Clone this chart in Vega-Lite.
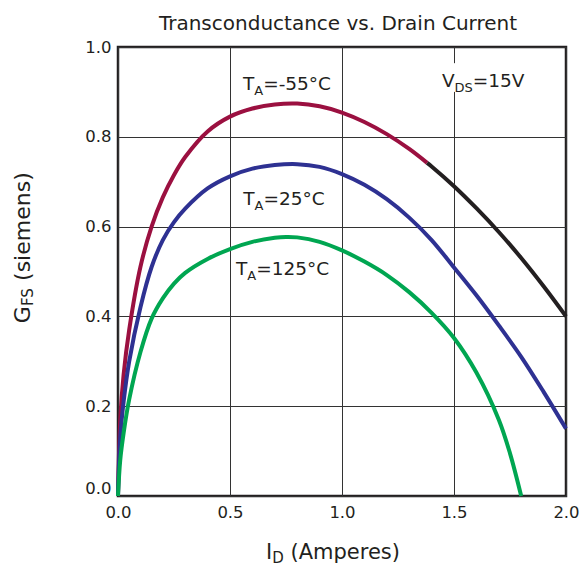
{
  "$schema": "https://vega.github.io/schema/vega-lite/v6.json",
  "width": 448,
  "height": 449,
  "autosize": "none",
  "padding": {"left": 118, "top": 47, "right": 15, "bottom": 74},
  "title": {"text": "Transconductance vs. Drain Current", "font": "DejaVu Sans", "fontSize": 20, "fontWeight": "normal", "color": "#231f20", "anchor": "middle", "baseline": "alphabetic", "offset": 13, "dx": -4, "dy": 24},
  "config": {
    "view": {"stroke": "#231f20", "strokeWidth": 2.5},
    "axis": {"domain": false, "ticks": false, "grid": true, "gridColor": "#333333", "gridWidth": 1, "gridOpacity": 1, "labelFont": "DejaVu Sans", "labelFontSize": 16.5, "labelColor": "#231f20", "labelOverlap": false}
  },
  "datasets": {
    "curves": [
      {"x": 0, "y": 0, "s": "red"}, {"x": 0.01, "y": 0.17, "s": "red"}, {"x": 0.025, "y": 0.27, "s": "red"}, {"x": 0.05, "y": 0.37, "s": "red"}, {"x": 0.1, "y": 0.51, "s": "red"}, {"x": 0.15, "y": 0.60, "s": "red"}, {"x": 0.2, "y": 0.665, "s": "red"}, {"x": 0.25, "y": 0.715, "s": "red"}, {"x": 0.3, "y": 0.755, "s": "red"}, {"x": 0.4, "y": 0.812, "s": "red"}, {"x": 0.5, "y": 0.845, "s": "red"}, {"x": 0.6, "y": 0.863, "s": "red"}, {"x": 0.7, "y": 0.872, "s": "red"}, {"x": 0.8, "y": 0.874, "s": "red"}, {"x": 0.9, "y": 0.868, "s": "red"}, {"x": 1.0, "y": 0.854, "s": "red"}, {"x": 1.1, "y": 0.833, "s": "red"}, {"x": 1.2, "y": 0.806, "s": "red"}, {"x": 1.3, "y": 0.773, "s": "red"}, {"x": 1.38, "y": 0.742, "s": "red"},
      {"x": 1.38, "y": 0.742, "s": "black"}, {"x": 1.4, "y": 0.734, "s": "black"}, {"x": 1.5, "y": 0.690, "s": "black"}, {"x": 1.6, "y": 0.641, "s": "black"}, {"x": 1.7, "y": 0.588, "s": "black"}, {"x": 1.8, "y": 0.530, "s": "black"}, {"x": 1.9, "y": 0.467, "s": "black"}, {"x": 2.0, "y": 0.40, "s": "black"},
      {"x": 0, "y": 0, "s": "blue"}, {"x": 0.01, "y": 0.13, "s": "blue"}, {"x": 0.025, "y": 0.21, "s": "blue"}, {"x": 0.05, "y": 0.30, "s": "blue"}, {"x": 0.1, "y": 0.42, "s": "blue"}, {"x": 0.15, "y": 0.51, "s": "blue"}, {"x": 0.2, "y": 0.57, "s": "blue"}, {"x": 0.25, "y": 0.61, "s": "blue"}, {"x": 0.3, "y": 0.64, "s": "blue"}, {"x": 0.4, "y": 0.685, "s": "blue"}, {"x": 0.5, "y": 0.712, "s": "blue"}, {"x": 0.6, "y": 0.729, "s": "blue"}, {"x": 0.7, "y": 0.737, "s": "blue"}, {"x": 0.8, "y": 0.739, "s": "blue"}, {"x": 0.9, "y": 0.733, "s": "blue"}, {"x": 1.0, "y": 0.717, "s": "blue"}, {"x": 1.1, "y": 0.693, "s": "blue"}, {"x": 1.2, "y": 0.661, "s": "blue"}, {"x": 1.3, "y": 0.620, "s": "blue"}, {"x": 1.4, "y": 0.570, "s": "blue"}, {"x": 1.5, "y": 0.509, "s": "blue"}, {"x": 1.6, "y": 0.447, "s": "blue"}, {"x": 1.7, "y": 0.380, "s": "blue"}, {"x": 1.8, "y": 0.310, "s": "blue"}, {"x": 1.9, "y": 0.232, "s": "blue"}, {"x": 2.0, "y": 0.15, "s": "blue"},
      {"x": 0, "y": 0, "s": "green"}, {"x": 0.01, "y": 0.08, "s": "green"}, {"x": 0.025, "y": 0.14, "s": "green"}, {"x": 0.05, "y": 0.215, "s": "green"}, {"x": 0.1, "y": 0.32, "s": "green"}, {"x": 0.15, "y": 0.395, "s": "green"}, {"x": 0.2, "y": 0.44, "s": "green"}, {"x": 0.25, "y": 0.473, "s": "green"}, {"x": 0.3, "y": 0.497, "s": "green"}, {"x": 0.4, "y": 0.528, "s": "green"}, {"x": 0.5, "y": 0.55, "s": "green"}, {"x": 0.6, "y": 0.566, "s": "green"}, {"x": 0.7, "y": 0.575, "s": "green"}, {"x": 0.75, "y": 0.577, "s": "green"}, {"x": 0.8, "y": 0.576, "s": "green"}, {"x": 0.9, "y": 0.566, "s": "green"}, {"x": 1.0, "y": 0.547, "s": "green"}, {"x": 1.1, "y": 0.522, "s": "green"}, {"x": 1.2, "y": 0.492, "s": "green"}, {"x": 1.3, "y": 0.454, "s": "green"}, {"x": 1.4, "y": 0.408, "s": "green"}, {"x": 1.5, "y": 0.352, "s": "green"}, {"x": 1.6, "y": 0.275, "s": "green"}, {"x": 1.7, "y": 0.17, "s": "green"}, {"x": 1.75, "y": 0.095, "s": "green"}, {"x": 1.8, "y": 0.0, "s": "green"}
    ],
    "mask": [{"x": 1.48, "x2": 1.52, "y": 0.90, "y2": 0.964}],
    "annMain": [
      {"x": 0.558, "y": 0.904, "t": "T"}, {"x": 0.648, "y": 0.904, "t": "=-55°C"},
      {"x": 0.559, "y": 0.648, "t": "T"}, {"x": 0.649, "y": 0.648, "t": "=25°C"},
      {"x": 0.527, "y": 0.492, "t": "T"}, {"x": 0.617, "y": 0.492, "t": "=125°C"},
      {"x": 1.446, "y": 0.912, "t": "V"}, {"x": 1.584, "y": 0.912, "t": "=15V"}
    ],
    "annSub": [
      {"x": 0.608, "y": 0.892, "t": "A"},
      {"x": 0.609, "y": 0.636, "t": "A"},
      {"x": 0.577, "y": 0.480, "t": "A"},
      {"x": 1.5025, "y": 0.900, "t": "DS"}
    ],
    "xTitleMain": [{"x": 0.661, "y": -0.141, "t": "I"}, {"x": 0.770, "y": -0.141, "t": "(Amperes)"}],
    "xTitleSub": [{"x": 0.689, "y": -0.150, "t": "D"}],
    "yTitleMain": [{"x": -0.395, "y": 0.385, "t": "G"}, {"x": -0.395, "y": 0.479, "t": "(siemens)"}],
    "yTitleSub": [{"x": -0.38, "y": 0.423, "t": "FS"}]
  },
  "encoding": {
    "x": {"field": "x", "type": "quantitative", "scale": {"domain": [0, 2], "nice": false, "zero": false}, "axis": {"values": [0, 0.5, 1, 1.5, 2], "format": ".1f", "title": null, "labelFlush": false, "labelPadding": 8}},
    "y": {"field": "y", "type": "quantitative", "scale": {"domain": [0, 1], "nice": false, "zero": false}, "axis": {"values": [0, 0.2, 0.4, 0.6, 0.8, 1], "format": ".1f", "title": null, "labelFlush": false, "labelPadding": 7, "labelBaseline": {"condition": {"test": "datum.value === 0", "value": "bottom"}, "value": "middle"}}}
  },
  "layer": [
    {
      "data": {"name": "mask"},
      "mark": {"type": "rect", "fill": "white"},
      "encoding": {"x2": {"field": "x2"}, "y2": {"field": "y2"}}
    },
    {
      "data": {"name": "curves"},
      "mark": {"type": "line", "strokeWidth": 4, "interpolate": "catmull-rom"},
      "encoding": {
        "color": {"field": "s", "type": "nominal", "scale": {"domain": ["red", "black", "blue", "green"], "range": ["#9b1040", "#231f20", "#2e3192", "#00a651"]}, "legend": null},
        "detail": {"field": "s"}
      }
    },
    {
      "data": {"name": "annMain"},
      "mark": {"type": "text", "align": "left", "baseline": "alphabetic", "font": "DejaVu Sans", "fontSize": 18.5, "color": "#231f20"},
      "encoding": {"text": {"field": "t"}}
    },
    {
      "data": {"name": "annSub"},
      "mark": {"type": "text", "align": "left", "baseline": "alphabetic", "font": "DejaVu Sans", "fontSize": 13, "color": "#231f20"},
      "encoding": {"text": {"field": "t"}}
    },
    {
      "data": {"name": "xTitleMain"},
      "mark": {"type": "text", "align": "left", "baseline": "alphabetic", "font": "DejaVu Sans", "fontSize": 21, "color": "#231f20"},
      "encoding": {"text": {"field": "t"}}
    },
    {
      "data": {"name": "xTitleSub"},
      "mark": {"type": "text", "align": "left", "baseline": "alphabetic", "font": "DejaVu Sans", "fontSize": 15, "color": "#231f20"},
      "encoding": {"text": {"field": "t"}}
    },
    {
      "data": {"name": "yTitleMain"},
      "mark": {"type": "text", "align": "left", "baseline": "alphabetic", "angle": 270, "font": "DejaVu Sans", "fontSize": 22, "color": "#231f20"},
      "encoding": {"text": {"field": "t"}}
    },
    {
      "data": {"name": "yTitleSub"},
      "mark": {"type": "text", "align": "left", "baseline": "alphabetic", "angle": 270, "font": "DejaVu Sans", "fontSize": 15, "color": "#231f20"},
      "encoding": {"text": {"field": "t"}}
    }
  ]
}
